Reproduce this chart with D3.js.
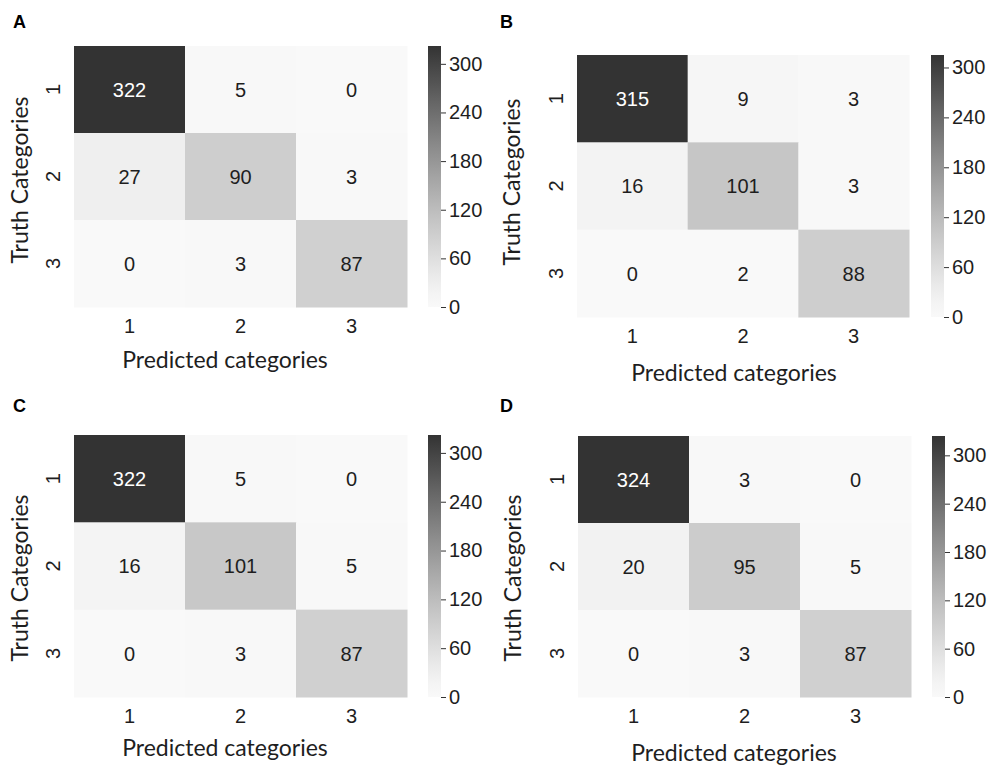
<!DOCTYPE html>
<html>
<head>
<meta charset="utf-8">
<script src="https://cdn.jsdelivr.net/npm/d3@7"></script>
<style>
  html, body { margin: 0; padding: 0; background: #fff; }
  svg { display: block; }
</style>
</head>
<body>
<svg id="chart" width="991" height="766"></svg>
<script>
// Confusion matrices for the four models (rows: truth, columns: predicted)
const categories = ["1", "2", "3"];
const panelLetters = ["A", "B", "C", "D"];
const matrixA = [[322, 5, 0], [27, 90, 3], [0, 3, 87]];
const matrixB = [[315, 9, 3], [16, 101, 3], [0, 2, 88]];
const matrixC = [[322, 5, 0], [16, 101, 5], [0, 3, 87]];
const matrixD = [[324, 3, 0], [20, 95, 5], [0, 3, 87]];
const colorbarTicks = [0, 60, 120, 180, 240, 300];
const xTitle = "Predicted categories";
const yTitle = "Truth Categories";

const matrices = [matrixA, matrixB, matrixC, matrixD];

// Layout of each panel: heatmap box, letter position, title positions
const layout = [
  { x: 74,  y: 46,  w: 333, h: 261, letter: [13, 28],  xTitleX: 225, xTitleY: 360, yTitleX: 20,  yTitleY: 180 },
  { x: 577, y: 55,  w: 332, h: 262, letter: [500, 28], xTitleX: 734, xTitleY: 373, yTitleX: 512, yTitleY: 182 },
  { x: 74,  y: 435, w: 333, h: 262, letter: [13, 412], xTitleX: 225, xTitleY: 748, yTitleX: 20,  yTitleY: 578 },
  { x: 578, y: 436, w: 333, h: 261, letter: [500, 412], xTitleX: 734, xTitleY: 753, yTitleX: 513, yTitleY: 578 }
];

const svg = d3.select("#chart");
const defs = svg.append("defs");
const numFont = "'Liberation Sans', Arial, sans-serif";
const titleFont = "Lato, 'Open Sans', sans-serif";

matrices.forEach((m, i) => {
  const L = layout[i];
  const vmax = d3.max(m.flat());
  const color = d3.scalePow().exponent(1.2).domain([0, vmax]).range(["#f9f9f9", "#333333"]).interpolate(d3.interpolateRgb);

  const x = d3.scaleBand().domain(categories).range([L.x, L.x + L.w]);
  const y = d3.scaleBand().domain(categories).range([L.y, L.y + L.h]);

  const g = svg.append("g");

  // cells
  const cells = [];
  m.forEach((row, r) => row.forEach((v, c) => cells.push({ r: categories[r], c: categories[c], v })));

  g.selectAll("rect.cell").data(cells).join("rect")
    .attr("class", "cell")
    .attr("x", d => x(d.c))
    .attr("y", d => y(d.r))
    .attr("width", x.bandwidth() + 0.5)
    .attr("height", y.bandwidth() + 0.5)
    .attr("fill", d => color(d.v));

  g.selectAll("text.val").data(cells).join("text")
    .attr("class", "val")
    .attr("x", d => x(d.c) + x.bandwidth() / 2)
    .attr("y", d => y(d.r) + y.bandwidth() / 2)
    .attr("dy", "0.36em")
    .attr("text-anchor", "middle")
    .attr("font-family", numFont)
    .attr("font-size", 20)
    .attr("fill", d => d.v / vmax > 0.6 ? "#ffffff" : "#1e1e1e")
    .text(d => d.v);

  // x axis tick labels
  const xAxis = g.append("g")
    .attr("transform", `translate(0,${L.y + L.h})`)
    .call(d3.axisBottom(x).tickSize(0).tickPadding(12));
  xAxis.select(".domain").remove();
  xAxis.selectAll("text")
    .attr("font-family", numFont).attr("font-size", 20).attr("fill", "#1e1e1e");

  // y axis tick labels, rotated
  const yAxis = g.append("g")
    .attr("transform", `translate(${L.x},0)`)
    .call(d3.axisLeft(y).tickSize(0));
  yAxis.select(".domain").remove();
  yAxis.selectAll("text")
    .attr("font-family", numFont).attr("font-size", 20).attr("fill", "#1e1e1e")
    .attr("x", null).attr("dy", null)
    .attr("text-anchor", "middle")
    .attr("transform", "translate(-14,0) rotate(-90)");

  // colorbar
  const cbX = L.x + 354, cbW = 13;
  const cbScale = d3.scaleLinear().domain([0, vmax]).range([L.y + L.h, L.y]);
  const gradId = "grad" + i;
  const grad = defs.append("linearGradient").attr("id", gradId)
    .attr("x1", 0).attr("y1", 1).attr("x2", 0).attr("y2", 0);
  d3.range(0, 1.0001, 0.05).forEach(t => {
    grad.append("stop").attr("offset", t).attr("stop-color", color(t * vmax));
  });
  g.append("rect")
    .attr("x", cbX).attr("y", L.y)
    .attr("width", cbW).attr("height", L.h)
    .attr("fill", `url(#${gradId})`);

  const cbAxis = g.append("g")
    .attr("transform", `translate(${cbX + cbW},0)`)
    .call(d3.axisRight(cbScale).tickValues(colorbarTicks).tickSize(5).tickPadding(3));
  cbAxis.select(".domain").remove();
  cbAxis.selectAll("line").attr("stroke", "#333");
  cbAxis.selectAll("text")
    .attr("font-family", numFont).attr("font-size", 20).attr("fill", "#1e1e1e");

  // titles
  g.append("text")
    .attr("x", L.xTitleX).attr("y", L.xTitleY)
    .attr("dy", "0.35em")
    .attr("text-anchor", "middle")
    .attr("font-family", titleFont).attr("font-size", 23).attr("fill", "#1e1e1e")
    .text(xTitle);

  g.append("text")
    .attr("transform", `translate(${L.yTitleX},${L.yTitleY}) rotate(-90)`)
    .attr("dy", "0.35em")
    .attr("text-anchor", "middle")
    .attr("font-family", titleFont).attr("font-size", 23).attr("fill", "#1e1e1e")
    .text(yTitle);

  // panel letter
  svg.append("text")
    .attr("x", L.letter[0]).attr("y", L.letter[1])
    .attr("font-family", numFont).attr("font-weight", "bold").attr("font-size", 18)
    .attr("fill", "#000")
    .text(panelLetters[i]);
});
</script>
</body>
</html>
